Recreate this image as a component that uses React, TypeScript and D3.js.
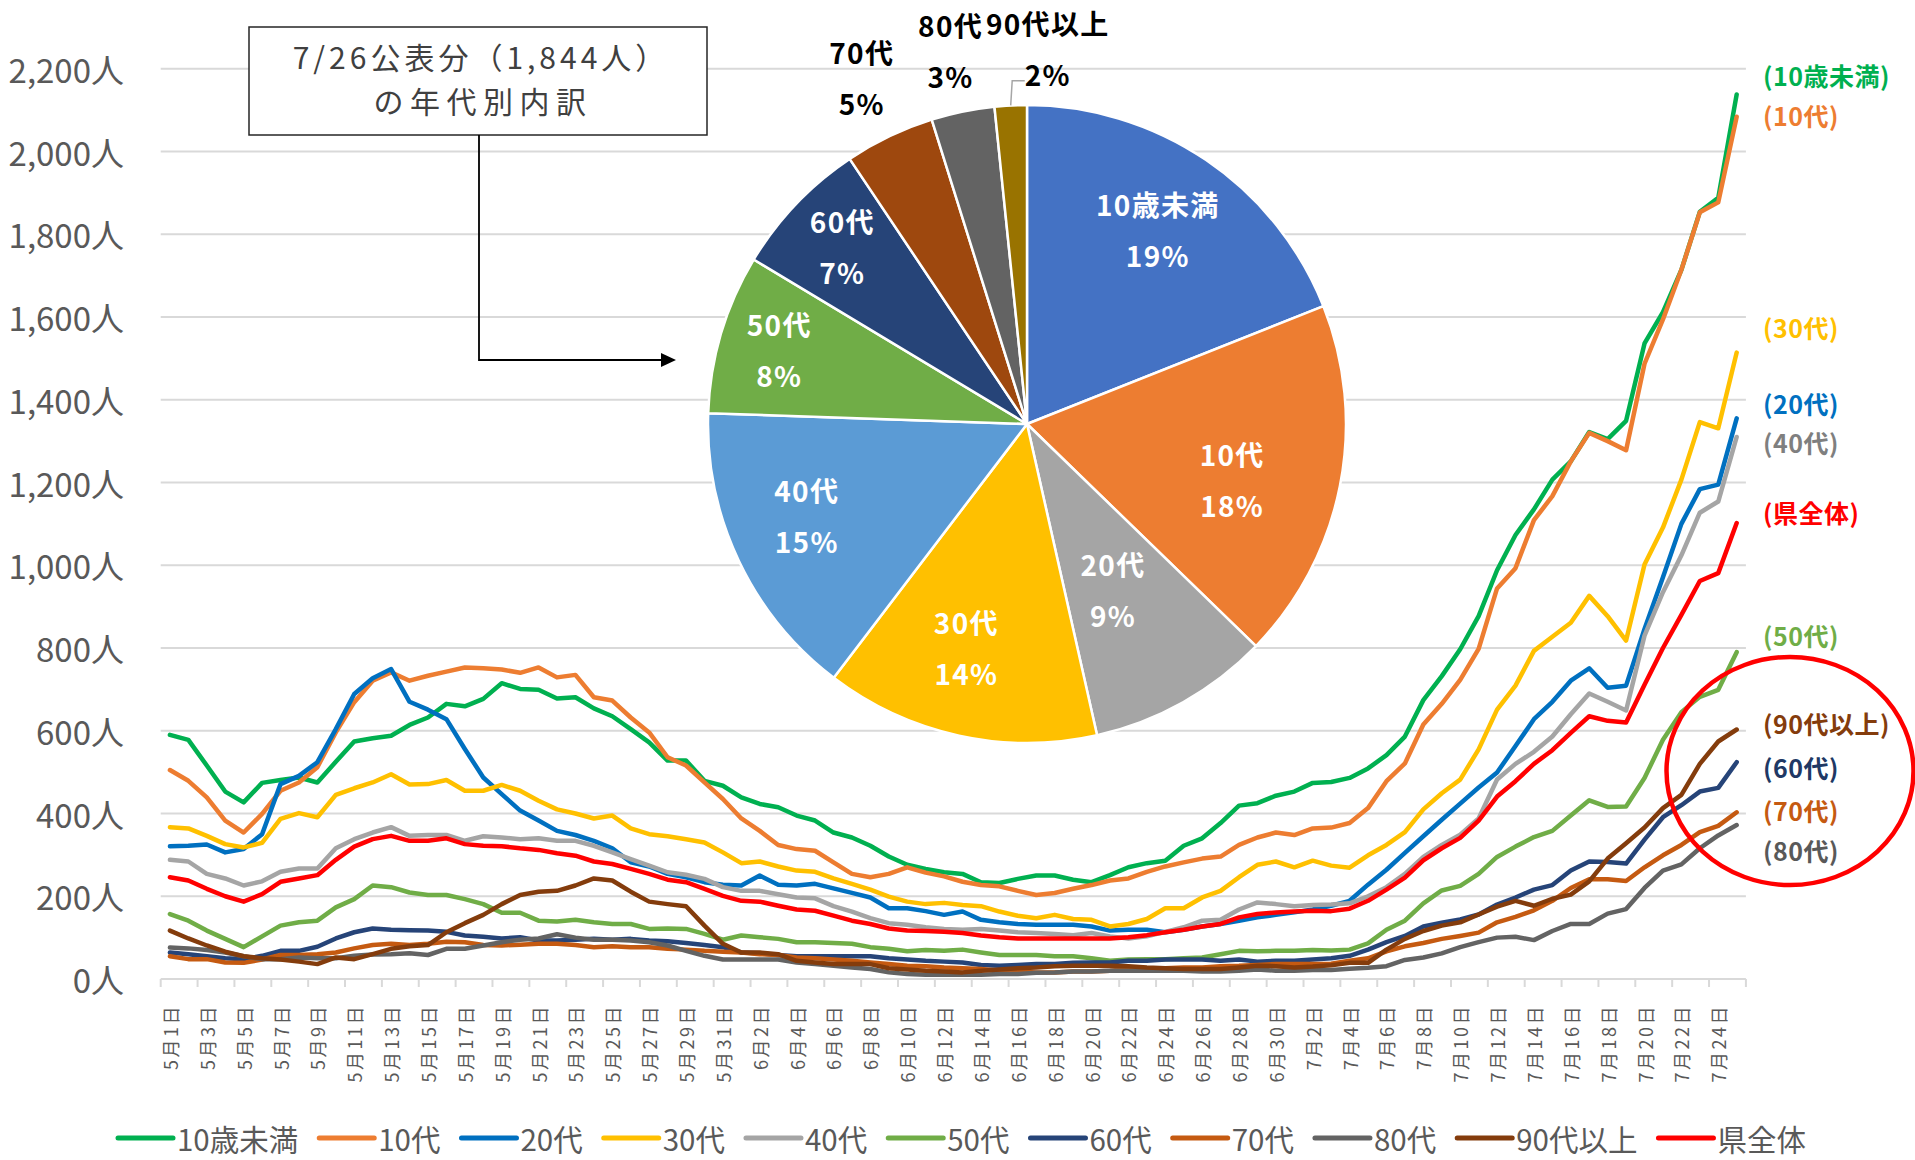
import React, { useMemo } from 'react';
import * as d3 from 'd3';

const FONT = '"Noto Sans CJK JP", "Noto Sans", sans-serif';

// ---------- categories ----------
const DAYS = d3.timeDay.range(new Date(2021, 4, 1), new Date(2021, 6, 26));
const CATEGORIES = DAYS.map((d) => `${d.getMonth() + 1}月${d.getDate()}日`);
const Y_TICKS = [0, 200, 400, 600, 800, 1000, 1200, 1400, 1600, 1800, 2000, 2200];

// ---------- series ----------
const SERIES_NAMES = ['10歳未満', '10代', '20代', '30代', '40代', '50代', '60代', '70代', '80代', '90代以上', '県全体'];
const SERIES_COLORS = ['#00B050', '#ED7D31', '#0070C0', '#FFC000', '#A5A5A5', '#70AD47', '#264478', '#C55A11', '#636363', '#843C0C', '#FF0000'];

const UNDER10 = [590, 578, 516, 453, 427, 474, 481, 487, 475, 525, 574, 582, 588, 614, 632, 665, 659, 677, 715, 701, 699,
  678, 681, 654, 635, 604, 572, 528, 528, 479, 467, 439, 423, 415, 395, 383, 354, 342, 322, 296, 276, 266,
  258, 254, 234, 232, 242, 250, 250, 240, 234, 251, 270, 280, 286, 322, 340, 377, 419, 425, 443, 453, 474,
  476, 486, 509, 541, 586, 674, 732, 797, 877, 988, 1073, 1135, 1207, 1251, 1322, 1305, 1349, 1536, 1612, 1714, 1854, 1888, 2138];
const TEENS = [505, 479, 439, 383, 354, 399, 455, 475, 512, 596, 669, 721, 741, 721, 733, 743, 753, 751, 748, 740, 753,
  729, 735, 681, 673, 632, 596, 536, 516, 475, 435, 388, 358, 324, 314, 310, 282, 254, 246, 254, 270, 257,
  248, 235, 227, 224, 213, 203, 208, 218, 227, 238, 243, 259, 272, 282, 291, 296, 324, 342, 354, 348, 364,
  366, 377, 413, 478, 521, 615, 665, 723, 798, 944, 993, 1109, 1167, 1251, 1320, 1300, 1278, 1487, 1594, 1714, 1853, 1877, 2084];
const TWENTIES = [321, 322, 325, 306, 314, 350, 471, 491, 524, 604, 689, 727, 749, 670, 651, 628, 556, 487, 447, 407, 383,
  358, 348, 334, 316, 282, 272, 254, 246, 234, 228, 226, 250, 228, 226, 230, 219, 208, 197, 171, 171, 164,
  155, 163, 143, 137, 133, 131, 131, 131, 127, 117, 119, 119, 113, 119, 127, 133, 141, 149, 155, 161, 168,
  177, 189, 228, 264, 305, 345, 385, 424, 463, 499, 563, 628, 670, 721, 751, 704, 709, 846, 971, 1100, 1184, 1195, 1355];
const THIRTIES = [367, 364, 346, 326, 318, 329, 387, 401, 391, 445, 461, 475, 495, 470, 471, 481, 455, 455, 469, 455, 431,
  410, 400, 388, 395, 364, 350, 345, 338, 330, 306, 280, 284, 272, 262, 259, 243, 230, 216, 199, 187, 181,
  184, 179, 176, 163, 153, 147, 155, 145, 143, 127, 133, 145, 171, 171, 197, 213, 246, 276, 284, 270, 286,
  274, 269, 299, 324, 355, 410, 449, 482, 555, 651, 709, 793, 827, 861, 926, 877, 818, 1002, 1091, 1207, 1346, 1331, 1514];
const FORTIES = [288, 284, 254, 243, 226, 236, 259, 267, 267, 316, 338, 354, 367, 346, 348, 348, 334, 345, 342, 338, 340,
  334, 334, 322, 306, 290, 274, 258, 252, 242, 222, 213, 213, 205, 197, 195, 176, 163, 147, 135, 131, 125,
  121, 119, 121, 117, 113, 111, 109, 106, 111, 103, 98, 103, 114, 125, 141, 143, 168, 185, 181, 176, 179,
  180, 183, 200, 222, 254, 295, 324, 349, 388, 482, 520, 549, 586, 640, 690, 670, 649, 830, 935, 1024, 1127, 1154, 1310];
const FIFTIES = [157, 141, 117, 97, 77, 103, 129, 137, 141, 173, 193, 226, 222, 209, 203, 203, 193, 181, 160, 160, 141,
  139, 143, 137, 133, 133, 121, 122, 121, 109, 95, 105, 101, 97, 89, 89, 87, 85, 77, 73, 67, 70,
  68, 71, 64, 58, 58, 58, 55, 55, 50, 44, 47, 48, 48, 50, 52, 60, 68, 67, 68, 68, 70,
  69, 71, 86, 119, 141, 183, 214, 225, 254, 295, 320, 343, 358, 395, 432, 416, 417, 486, 578, 645, 682, 699, 790];
const SIXTIES = [64, 60, 55, 50, 48, 56, 68, 68, 78, 98, 113, 122, 119, 118, 117, 114, 105, 102, 98, 101, 93,
  93, 95, 97, 95, 97, 93, 91, 87, 82, 77, 64, 62, 58, 55, 55, 55, 55, 55, 50, 47, 44,
  42, 40, 34, 32, 34, 36, 36, 39, 40, 40, 44, 44, 47, 47, 47, 44, 47, 42, 44, 44, 47,
  50, 56, 71, 89, 104, 127, 136, 144, 156, 180, 197, 216, 227, 262, 284, 283, 279, 337, 391, 420, 453, 462, 524];
const SEVENTIES = [55, 48, 48, 40, 39, 47, 58, 58, 60, 64, 74, 82, 85, 82, 85, 90, 89, 82, 81, 83, 85,
  85, 82, 77, 79, 77, 77, 73, 71, 68, 66, 64, 60, 58, 52, 50, 47, 44, 40, 36, 32, 31,
  28, 26, 24, 20, 18, 16, 16, 18, 18, 20, 24, 24, 26, 28, 28, 31, 32, 34, 36, 36, 36,
  37, 44, 50, 67, 79, 87, 97, 104, 112, 137, 150, 166, 189, 220, 241, 241, 237, 270, 299, 324, 355, 370, 403];
const EIGHTIES = [76, 74, 70, 64, 55, 48, 48, 52, 50, 50, 56, 59, 60, 62, 58, 73, 73, 81, 89, 95, 98,
  108, 100, 95, 95, 93, 89, 81, 68, 56, 47, 47, 47, 47, 40, 36, 32, 28, 24, 16, 12, 10,
  10, 10, 10, 12, 12, 15, 16, 18, 18, 20, 20, 20, 20, 20, 18, 18, 20, 23, 20, 20, 22,
  22, 25, 27, 31, 46, 52, 62, 77, 89, 100, 102, 94, 116, 133, 133, 158, 169, 220, 262, 277, 316, 347, 372];
const NINETIES = [117, 98, 81, 66, 55, 50, 47, 42, 36, 52, 48, 60, 73, 79, 82, 113, 135, 155, 181, 203, 211,
  213, 226, 243, 238, 211, 187, 181, 176, 129, 85, 64, 64, 60, 44, 40, 36, 36, 36, 26, 23, 20,
  18, 16, 20, 23, 26, 28, 31, 32, 32, 32, 31, 28, 26, 24, 24, 24, 28, 32, 31, 28, 30,
  33, 39, 39, 71, 97, 116, 129, 137, 156, 175, 189, 177, 194, 204, 236, 291, 328, 366, 413, 445, 520, 574, 603];
const PREF_TOTAL = [246, 238, 218, 200, 187, 205, 235, 243, 251, 288, 320, 338, 346, 334, 334, 340, 326, 322, 321, 316, 312,
  304, 298, 284, 278, 266, 254, 240, 234, 218, 201, 189, 187, 177, 168, 165, 153, 141, 133, 122, 117, 116,
  114, 111, 105, 101, 98, 98, 98, 98, 98, 98, 101, 106, 113, 119, 127, 133, 149, 157, 161, 163, 165,
  164, 170, 189, 216, 245, 287, 316, 341, 383, 441, 478, 520, 553, 595, 635, 624, 620, 711, 800, 880, 962, 981, 1102];

const SERIES_VALUES = [UNDER10, TEENS, TWENTIES, THIRTIES, FORTIES, FIFTIES, SIXTIES, SEVENTIES, EIGHTIES, NINETIES, PREF_TOTAL];

// ---------- right-side annotations ----------
const RIGHT_LABELS = ['(10歳未満)', '(10代)', '(30代)', '(20代)', '(40代)', '(県全体)', '(50代)', '(90代以上)', '(60代)', '(70代)', '(80代)'];
const RIGHT_LABEL_COLORS = ['#00B050', '#ED7D31', '#FFC000', '#0070C0', '#7F7F7F', '#FF0000', '#70AD47', '#843C0C', '#203864', '#C55A11', '#595959'];
const RIGHT_LABEL_VALUES = [2185, 2089, 1576, 1392, 1299, 1129, 831, 618, 512, 409, 312];

// ---------- pie (7/26) ----------
const PIE_NAMES = ['10歳未満', '10代', '20代', '30代', '40代', '50代', '60代', '70代', '80代', '90代以上'];
const PIE_COUNTS = [350, 337, 170, 256, 280, 149, 129, 84, 59, 30];
const PIE_COLORS = ['#4472C4', '#ED7D31', '#A5A5A5', '#FFC000', '#5B9BD5', '#70AD47', '#264478', '#9E480E', '#636363', '#997300'];
const PIE_LABEL_RADIUS = [0.73, 0.667, 0.59, 0.73, 0.75, 0.81, 0.8, 1.2, 1.19, 1.175];
const PIE_LABEL_SHIFT_DEG = [0, 4.2, 2.1, 2.8, 2.4, 0, 0, 0, 0, 6.1];
const PIE_LABEL_OUTSIDE = [false, false, false, false, false, false, false, true, true, true];

export default function App() {
  const W = 1915;
  const H = 1160;
  const left = 160.7;
  const right = 1745.9;

  const x = d3.scaleBand<string>().domain(CATEGORIES).range([left, right]).padding(0);
  const y = d3.scaleLinear().domain([0, 2200]).range([979, 68.75]);
  const bw = x.bandwidth();
  const cx = (i: number) => (x(CATEGORIES[i]) as number) + bw / 2;
  const line = d3.line<number>().x((_, i) => cx(i)).y((v) => y(v)).curve(d3.curveLinear);

  const legend = useMemo(() => {
    const ctx = document.createElement('canvas').getContext('2d') as CanvasRenderingContext2D;
    ctx.font = `29.5px ${FONT}`;
    let xx = 118;
    return SERIES_NAMES.map((n) => {
      const w = ctx.measureText(n).width;
      const item = { x: xx, w };
      xx += 55 + 4 + w + 21;
      return item;
    });
  }, []);

  // pie
  const PCX = 1027;
  const PCY = 424;
  const R = 319;
  const total = d3.sum(PIE_COUNTS);
  const fmt = d3.format('.0%');
  const pieData = d3.pie<number>().sort(null).value((v) => v)(PIE_COUNTS);
  const arc = d3.arc<d3.PieArcDatum<number>>().innerRadius(0).outerRadius(R);

  const tickIdx = d3.range(0, CATEGORIES.length + 1, 2);
  const labelIdx = d3.range(0, CATEGORIES.length, 2);

  return (
    <svg width={W} height={H} style={{ position: 'absolute', left: 0, top: 0, background: '#fff' }} fontFamily={FONT}>
      <rect x={0} y={0} width={W} height={H} fill="#fff" />
      {/* gridlines */}
      {Y_TICKS.map((t) => (
        <line key={t} x1={left} x2={right} y1={y(t)} y2={y(t)} stroke="#D9D9D9" strokeWidth={2} />
      ))}
      {/* y labels */}
      {Y_TICKS.map((t) => (
        <text key={'yl' + t} x={124} y={y(t)} textAnchor="end" dominantBaseline="central" fontSize={33} fill="#595959">
          {d3.format(',')(t)}人
        </text>
      ))}
      {/* x ticks */}
      {tickIdx.map((k) => {
        const xx = left + k * bw;
        return <line key={'t' + k} x1={xx} x2={xx} y1={979} y2={987} stroke="#D9D9D9" strokeWidth={2} />;
      })}
      {labelIdx.map((i) => (
        <text key={'xl' + i} transform={`translate(${cx(i)},1004) rotate(-90)`} textAnchor="end" dominantBaseline="central"
          fontSize={18} letterSpacing={2.5} fill="#595959">
          {CATEGORIES[i]}
        </text>
      ))}
      {/* series */}
      {SERIES_VALUES.map((vals, s) => (
        <path key={'s' + s} d={line(vals) as string} fill="none" stroke={SERIES_COLORS[s]} strokeWidth={4.5}
          strokeLinejoin="round" strokeLinecap="round" />
      ))}

      {/* pie */}
      <g transform={`translate(${PCX},${PCY})`}>
        {pieData.map((d, i) => (
          <path key={'p' + i} d={arc(d) as string} fill={PIE_COLORS[i]} stroke="#fff" strokeWidth={2.5} strokeLinejoin="round" />
        ))}
      </g>
      {pieData.map((d, i) => {
        const a = (d.startAngle + d.endAngle) / 2 + (PIE_LABEL_SHIFT_DEG[i] * Math.PI) / 180;
        const r = R * PIE_LABEL_RADIUS[i];
        const lx = PCX + Math.sin(a) * r;
        const ly = PCY - Math.cos(a) * r;
        const col = PIE_LABEL_OUTSIDE[i] ? '#000' : '#fff';
        return (
          <text key={'pl' + i} fontWeight={700} fontSize={28} fill={col} textAnchor="middle" letterSpacing={1.3}>
            <tspan x={lx} y={ly - 15}>{PIE_NAMES[i]}</tspan>
            <tspan x={lx} y={ly + 36}>{fmt(d.data / total)}</tspan>
          </text>
        );
      })}
      {(() => {
        const d = pieData[9];
        const a = (d.startAngle + d.endAngle) / 2;
        const sx = PCX + Math.sin(a) * R;
        const sy = PCY - Math.cos(a) * R;
        const la = a + (PIE_LABEL_SHIFT_DEG[9] * Math.PI) / 180;
        const lx = PCX + Math.sin(la) * R * PIE_LABEL_RADIUS[9];
        const ly = PCY - Math.cos(la) * R * PIE_LABEL_RADIUS[9];
        return (
          <path d={`M${sx},${sy} L${sx + 1.5},${ly + 31} L${lx - 23},${ly + 31}`} fill="none" stroke="#A6A6A6" strokeWidth={1.5} />
        );
      })()}

      {/* annotation box */}
      <rect x={249} y={27} width={458} height={108} fill="#fff" stroke="#262626" strokeWidth={1.5} />
      <text textAnchor="middle" fontSize={30} fill="#404040">
        <tspan x={481} y={69} letterSpacing={4}>7/26公表分（1,844人）</tspan>
        <tspan x={483} y={113} letterSpacing={6.5}>の年代別内訳</tspan>
      </text>
      <path d="M479,135 V360 H662" fill="none" stroke="#000" strokeWidth={1.8} />
      <polygon points="676,360 661,353 661,367" fill="#000" />

      {/* right labels */}
      {RIGHT_LABELS.map((t, i) => (
        <text key={'rl' + i} x={1763} y={y(RIGHT_LABEL_VALUES[i])} dominantBaseline="central" fontSize={25}
          fontWeight={700} fill={RIGHT_LABEL_COLORS[i]} letterSpacing={0.5}>
          {t}
        </text>
      ))}
      <ellipse cx={1790} cy={771} rx={123.5} ry={114} fill="none" stroke="#FF0000" strokeWidth={4.5} />

      {/* legend */}
      {legend.map((it, i) => (
        <g key={'lg' + i}>
          <line x1={it.x} x2={it.x + 55} y1={1138} y2={1138} stroke={SERIES_COLORS[i]} strokeWidth={5} strokeLinecap="round" />
          <text x={it.x + 59} y={1138} dominantBaseline="central" fontSize={29.5} fill="#595959">{SERIES_NAMES[i]}</text>
        </g>
      ))}
    </svg>
  );
}
